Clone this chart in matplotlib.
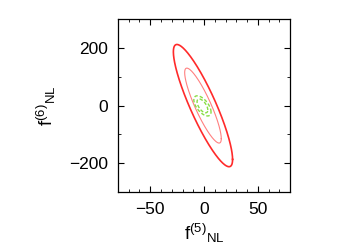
import numpy as np
import matplotlib
matplotlib.use("Agg")
import matplotlib.pyplot as plt
from matplotlib.ticker import MultipleLocator

plt.rcParams['font.family'] = ['Liberation Sans', 'DejaVu Sans']
plt.rcParams['mathtext.fontset'] = 'custom'
plt.rcParams['mathtext.rm'] = 'Liberation Sans'
plt.rcParams['mathtext.it'] = 'Liberation Sans'

# contour parameters (semi-extent in x, semi-extent in y, correlation)
centers_x = [-1, -1, -1.5, -1.5]
centers_y = [0, 0, -1, -1]
sigma_x = [27.5, 17, 8, 5]
sigma_y = [212, 130, 35, 24]
rho = [-0.88, -0.88, -0.6, -0.6]

colors = ["#ff2a2a", "#ff8080", "#88dd44", "#88dd44"]
widths = [1.2, 0.8, 1.0, 1.0]
styles = ["-", "-", (0, (2.5, 1.5)), (0, (2.5, 1.5))]

xticks = [-50, 0, 50]
yticks = [-200, 0, 200]

fig = plt.figure(figsize=(3.5, 2.45), dpi=100)
ax = fig.add_axes([0.337, 0.216, 0.492, 0.706])

t = np.linspace(0, 2 * np.pi, 400)
for cx, cy, sx, sy, r, c, w, s in zip(centers_x, centers_y, sigma_x, sigma_y, rho, colors, widths, styles):
    x = cx + sx * np.cos(t)
    y = cy + sy * (r * np.cos(t) + np.sqrt(1 - r * r) * np.sin(t))
    ax.plot(x, y, color=c, lw=w, linestyle=s)

ax.set_xlim(-80, 80)
ax.set_ylim(-300, 300)
ax.set_xticks(xticks)
ax.set_yticks(yticks)
ax.xaxis.set_minor_locator(MultipleLocator(10))
ax.yaxis.set_minor_locator(MultipleLocator(100))
ax.tick_params(which="both", direction="in", top=True, right=True, labelsize=12.5, pad=7)
ax.tick_params(which="major", length=4, width=0.8)
ax.tick_params(which="minor", length=2, width=0.6)
for sp in ax.spines.values():
    sp.set_linewidth(0.9)

ax.set_xlabel(r"f$^{(5)}$$_{\mathrm{NL}}$", fontsize=13.5, labelpad=4)
ax.set_ylabel(r"f$^{(6)}$$_{\mathrm{NL}}$", fontsize=13.5, labelpad=8)

fig.savefig("out.png", dpi=100)
